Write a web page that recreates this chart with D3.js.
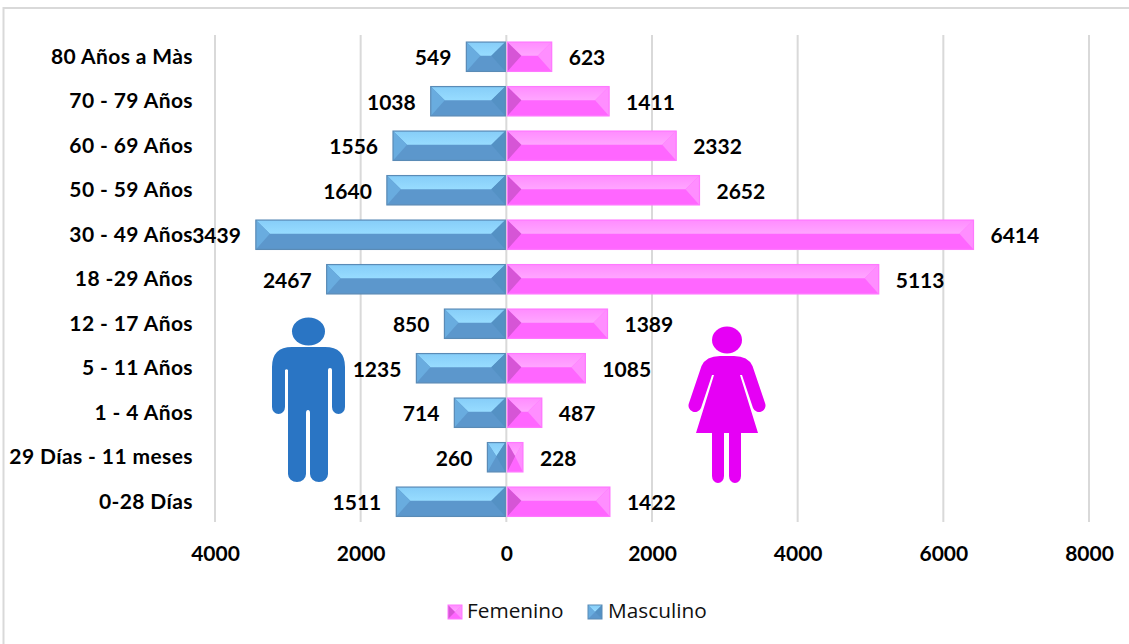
<!DOCTYPE html>
<html><head><meta charset="utf-8">
<script src="https://cdn.jsdelivr.net/npm/d3@7"></script>
<style>html,body{margin:0;padding:0;background:#fff;overflow:hidden}svg{display:block}</style>
</head><body><div id="c"></div>
<script>
const categories = ["80 Años a Màs","70 - 79 Años","60 - 69 Años","50 - 59 Años","30 - 49 Años","18 -29 Años","12 - 17 Años","5 - 11 Años","1 - 4 Años","29 Días - 11 meses","0-28 Días"];
const masculino = [549,1038,1556,1640,3439,2467,850,1235,714,260,1511];
const femenino = [623,1411,2332,2652,6414,5113,1389,1085,487,228,1422];
const xTicks = [-4000,-2000,0,2000,4000,6000,8000];

const W=1129,H=644;
const svg=d3.select("#c").append("svg").attr("width",W).attr("height",H);
const FONT="Lato, Carlito, sans-serif";
svg.append("rect").attr("x",3.5).attr("y",8).attr("width",W+20).attr("height",H+20)
  .attr("fill","#fff").attr("stroke","#d9d9d9").attr("stroke-width",2);

const x=d3.scaleLinear().domain([-4000,8000]).range([215,1089]);
const y=d3.scaleBand().domain(categories).range([34.5,524]).paddingInner(0.34).paddingOuter(0.17);

const defs=svg.append("defs");
function grad(id,c1,c2){const g=defs.append("linearGradient").attr("id",id).attr("x1",0).attr("y1",0).attr("x2",0).attr("y2",1);
  g.append("stop").attr("offset",0).attr("stop-color",c1);g.append("stop").attr("offset",1).attr("stop-color",c2);}
grad("mTop","#86cdf8","#97dcff");
grad("fTop","#ff8cff","#ffa6ff");

const paletteM={top:"url(#mTop)",bottom:"#5c97cc",left:"#69acdf",right:"#5491c4",stroke:"#5a8bb6"};
const paletteF={top:"url(#fTop)",bottom:"#ff66ff",left:"#d655d6",right:"#ff8eff",stroke:"#ff78ff"};

svg.append("g").selectAll("line").data(xTicks).join("line")
  .attr("x1",d=>x(d)).attr("x2",d=>x(d)).attr("y1",35).attr("y2",522)
  .attr("stroke","#d9d9d9").attr("stroke-width",2);

function bevelBar(g,x0,x1,yt,h,p){
  const b=Math.min(14,(x1-x0)/2), yb=yt+h, im=yt+h/2-1;
  const pt=a=>a.map(q=>q.join(",")).join(" ");
  g.append("rect").attr("x",x0).attr("y",yt).attr("width",x1-x0).attr("height",h).attr("fill",p.bottom);
  g.append("polygon").attr("points",pt([[x0,yt],[x1,yt],[x1-b,im],[x0+b,im]])).attr("fill",p.top);
  g.append("polygon").attr("points",pt([[x0,yt],[x0+b,im],[x0,yb]])).attr("fill",p.left);
  g.append("polygon").attr("points",pt([[x1,yt],[x1-b,im],[x1,yb]])).attr("fill",p.right);
  g.append("rect").attr("x",x0).attr("y",yt).attr("width",x1-x0).attr("height",h).attr("fill","none").attr("stroke",p.stroke).attr("stroke-width",1.2);
}
const bars=svg.append("g");
categories.forEach((c,i)=>{
  bevelBar(bars,x(-masculino[i]),x(0)-1,y(c),y.bandwidth(),paletteM);
  bevelBar(bars,x(0)+1,x(femenino[i]),y(c),y.bandwidth(),paletteF);
});

const labels=svg.append("g").attr("font-family",FONT).attr("font-weight",700).attr("font-size",21).attr("fill","#000");
categories.forEach((c,i)=>{
  const cy=y(c)+y.bandwidth()/2+7;
  labels.append("text").attr("x",193).attr("y",cy).attr("text-anchor","end").attr("letter-spacing",0.4).text(c);
  labels.append("text").attr("x",x(-masculino[i])-15).attr("y",cy+1.5).attr("text-anchor","end").text(masculino[i]);
  labels.append("text").attr("x",x(femenino[i])+17).attr("y",cy+1.5).text(femenino[i]);
});

const axis=d3.axisBottom(x).tickValues(xTicks).tickFormat(d=>Math.abs(d)).tickSize(0);
const ax=svg.append("g").attr("transform","translate(0,545)").call(axis);
ax.select(".domain").remove();
ax.selectAll("text").attr("font-family",FONT).attr("font-weight",700).attr("font-size",21).attr("fill","#000").attr("dy","0.75em").attr("y",0);

// man icon
const man=svg.append("g").attr("fill","#2a75c4");
man.append("ellipse").attr("cx",308.5).attr("cy",331.5).attr("rx",16.5).attr("ry",14);
man.append("path").attr("d","M272 367 Q272 347 292 347 L325 347 Q345 347 345 367 L345 407 A6.5 7 0 0 1 332 407 L332 370 A2 2 0 0 0 328 370 L328 474 A9 8 0 0 1 310 474 L310 413 A2 3 0 0 0 306 413 L306 474 A9 8 0 0 1 288 474 L288 370 A2 2 0 0 0 285 370 L285 407 A6.5 7 0 0 1 272 407 Z");

// woman icon
const wom=svg.append("g").attr("fill","#e600f5");
wom.append("ellipse").attr("cx",727).attr("cy",340).attr("rx",15).attr("ry",13.5);
wom.append("path").attr("d","M701.5 366 Q706 356 720 356 L734 356 Q748 356 752.5 366 L765 403 A6.3 6.3 0 0 1 753 408 L742 375 L740 375 L758 433 L741 433 L741 476 A6 7 0 0 1 729 476 L729 433 L724 433 L724 476 A6 7 0 0 1 712 476 L712 433 L696 433 L714 375 L712 375 L701 408 A6.3 6.3 0 0 1 689 403 Z");

// legend
const legendItems=[["Femenino",448,467,paletteF],["Masculino",588,608,paletteM]];
const leg=svg.append("g");
legendItems.forEach(([t,sx,tx,p])=>{
  const s=14,gg=leg.append("g");
  const pt=a=>a.map(q=>q.join(",")).join(" ");
  gg.append("rect").attr("x",sx).attr("y",605).attr("width",s).attr("height",s).attr("fill",p.bottom);
  gg.append("polygon").attr("points",pt([[sx,605],[sx+s,605],[sx+s/2,612]])).attr("fill",p.top);
  gg.append("polygon").attr("points",pt([[sx,605],[sx+s/2,612],[sx,619]])).attr("fill",p.left);
  gg.append("polygon").attr("points",pt([[sx+s,605],[sx+s/2,612],[sx+s,619]])).attr("fill",p.right);
  gg.append("rect").attr("x",sx).attr("y",605).attr("width",s).attr("height",s).attr("fill","none").attr("stroke",p.stroke);
  leg.append("text").attr("x",tx).attr("y",618).attr("font-family","'Open Sans',sans-serif").attr("font-size",20.8).attr("fill","#111").text(t);
});
</script></body></html>
